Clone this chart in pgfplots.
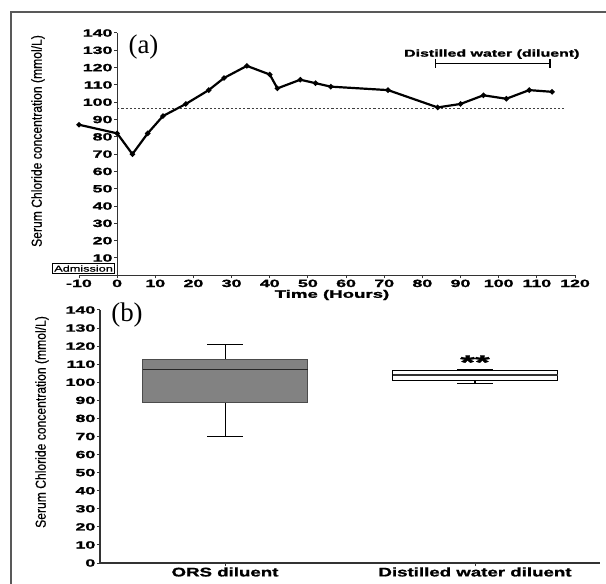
\documentclass[border=0pt]{standalone}
\usepackage{fontspec}
\setmainfont{Liberation Sans}
\newfontfamily\timesf{Liberation Serif}
\newfontfamily\heavy{Liberation Sans}[BoldFeatures={FakeBold=1.2}]
\newfontfamily\narrowf{Liberation Sans}[FakeBold=0.6]
\usepackage{graphicx}
\usepackage{pgfplots}
\pgfplotsset{compat=1.18}
% Prism-style wide bold labels
\newcommand{\wide}[2][1.7]{\scalebox{#1}[1]{\heavy\bfseries #2}}

\begin{document}
\begin{tikzpicture}
\useasboundingbox (0,0) rectangle (606bp,584bp);
\draw[line width=1.5bp, black!65] (11bp,0) -- (11bp,572bp) -- (606bp,572bp);

% (a) time course
\begin{axis}[
  scale only axis, width=496bp, height=242.3bp,
  at={(79bp,308.7bp)}, anchor=south west,
  xmin=-10, xmax=120, ymin=0, ymax=140, enlargelimits=false, clip=false,
  axis x line*=bottom, axis y line*=center,
  axis line style={line width=1.3bp, black!80},
  xtick={-10,0,10,20,30,40,50,60,70,80,90,100,110,120},
  xticklabels={\wide{-10},\wide{0},\wide{10},\wide{20},\wide{30},\wide{40},\wide{50},\wide{60},\wide{70},\wide{80},\wide{90},\wide{100},\wide{110},\wide{120}},
  ytick={10,20,30,40,50,60,70,80,90,100,110,120,130,140},
  yticklabels={\wide{10},\wide{20},\wide{30},\wide{40},\wide{50},\wide{60},\wide{70},\wide{80},\wide{90},\wide{100},\wide{110},\wide{120},\wide{130},\wide{140}},
  tick align=outside, major tick length=3bp,
  tick style={line width=1bp, black!80},
  tick label style={font=\fontsize{10.5}{10.5}\selectfont},
  yticklabel style={anchor=east, inner sep=1.5bp},
  xticklabel style={anchor=north, inner sep=1.2bp},
]
\addplot[line width=1.2bp, black!75, dash pattern=on 2.2bp off 2bp] coordinates {(0,96.6) (117,96.6)};
\addplot[line width=2.2bp, black, mark=*, mark size=1.4bp] coordinates {
  (-10,87) (0,82) (4,70) (8,82) (12,92) (18,99) (24,107) (28,114) (34,121)
  (40,116) (42,108) (48,113) (52,111) (56,109) (71,107) (84,97) (90,99)
  (96,104) (102,102) (108,107) (114,106)
};
\addplot[|-|, line width=1.2bp, black] coordinates {(83.2,122.5) (113.6,122.5)};
\node[font=\fontsize{10}{10}\selectfont] at (axis cs:98.2,127.8) {\wide[1.6]{Distilled water (diluent)}};
\node[draw=black, line width=1bp, fill=white, inner xsep=1.5bp, inner ysep=0.5bp, minimum height=10bp,
  font=\fontsize{8.5}{9}\selectfont] at (axis cs:-8.8,3.9) {\scalebox{1.5}[1]{\narrowf Admission}};
\node[font=\timesf\fontsize{27}{27}\selectfont] at (axis cs:6.9,131.9) {(a)};
\end{axis}

% (b) box plots, drawn from the five-number summaries
\begin{axis}[
  scale only axis, width=500bp, height=253bp,
  at={(100bp,21bp)}, anchor=south west,
  xmin=-0.5, xmax=1.5, ymin=0, ymax=140, enlargelimits=false, clip=false,
  axis x line*=bottom, axis y line*=left,
  axis line style={line width=1.3bp, black!80},
  xtick={0,1},
  xticklabels={\wide[1.5]{ORS diluent},\wide[1.5]{Distilled water diluent}},
  ytick={0,10,20,30,40,50,60,70,80,90,100,110,120,130,140},
  yticklabels={\wide{0},\wide{10},\wide{20},\wide{30},\wide{40},\wide{50},\wide{60},\wide{70},\wide{80},\wide{90},\wide{100},\wide{110},\wide{120},\wide{130},\wide{140}},
  tick align=outside, major tick length=3bp,
  tick style={line width=1bp, black!80},
  yticklabel style={font=\fontsize{10.5}{10.5}\selectfont, anchor=east, inner sep=1.5bp},
  xticklabel style={font=\fontsize{12.5}{12.5}\selectfont, anchor=north, inner sep=1.2bp},
]
% ORS diluent: whiskers 70/121, box 88.7-112.4, median 107.2
\addplot[black, line width=1bp] coordinates {(0,112.4) (0,121)};
\addplot[black, line width=1bp] coordinates {(-0.072,121) (0.072,121)};
\addplot[black, line width=1bp] coordinates {(0,88.7) (0,70)};
\addplot[black, line width=1bp] coordinates {(-0.072,70) (0.072,70)};
\addplot[draw=black!70, line width=0.8bp, fill={rgb,255:red,130;green,130;blue,130}]
  coordinates {(-0.33,88.7) (0.33,88.7) (0.33,112.4) (-0.33,112.4)} -- cycle;
\addplot[black!85, line width=1bp] coordinates {(-0.33,107.2) (0.33,107.2)};
% Distilled water diluent: whiskers 99.2/107.1, box 100.9-106.4, median 104
\addplot[black, line width=1.2bp] coordinates {(1,106.4) (1,107.1)};
\addplot[black, line width=1.2bp] coordinates {(0.928,107.1) (1.072,107.1)};
\addplot[black, line width=1.2bp] coordinates {(1,100.9) (1,99.2)};
\addplot[black, line width=1.2bp] coordinates {(0.928,99.2) (1.072,99.2)};
\addplot[draw=black, line width=1.4bp, fill=white]
  coordinates {(0.67,100.9) (1.33,100.9) (1.33,106.4) (0.67,106.4)} -- cycle;
\addplot[black!80, line width=1.2bp] coordinates {(0.67,104) (1.33,104)};
\node[anchor=base, font=\fontsize{20}{20}\selectfont] at (axis cs:1,107.3) {\wide[1.9]{**}};
\node[font=\timesf\fontsize{27}{27}\selectfont] at (axis cs:-0.392,137.2) {(b)};
\end{axis}

\node[rotate=90, font=\fontsize{14.5}{15}\selectfont] at (38bp,443bp) {\scalebox{0.84}[1]{\narrowf Serum Chloride concentration (mmol/L)}};
\node[rotate=90, font=\fontsize{14.5}{15}\selectfont] at (42bp,162bp) {\scalebox{0.84}[1]{\narrowf Serum Chloride concentration (mmol/L)}};
\node[font=\fontsize{11}{11}\selectfont] at (332bp,289bp) {\wide[1.7]{Time (Hours)}};
\end{tikzpicture}
\end{document}
